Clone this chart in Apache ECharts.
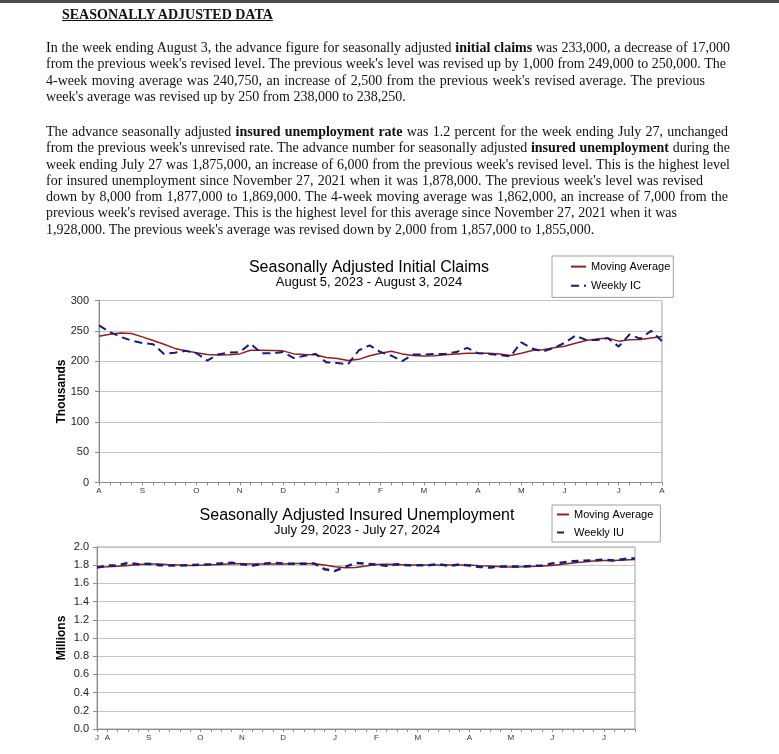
<!DOCTYPE html>
<html>
<head>
    <meta charset="utf-8">
    <title>Seasonally Adjusted Data</title>
    <style>
        body { margin: 0; background: #fff; }
        #topbar { position: absolute; left: 0; top: 0; width: 779px; height: 3px; background: #4a4a4a; }
        #container { position: absolute; left: 0; top: 0; width: 779px; height: 754px; }
        #text { position: absolute; left: 0; top: 0; width: 779px; color: #111;
                font-family: "Liberation Serif", "Times New Roman", serif; font-size: 14px; }
        #head { position: absolute; left: 62px; top: 6px; font-weight: bold; text-decoration: underline; line-height: 18px; }
        .para { position: absolute; left: 46px; }
        .ln { white-space: nowrap; height: 16.3px; line-height: 16.3px; text-align: justify; text-align-last: justify; }
        .ln.last { text-align-last: left; }
    </style>
</head>
<body>
<div id="container"></div>
<div id="topbar"></div>
<div id="text">
    <div id="head">SEASONALLY ADJUSTED DATA</div>
    <div class="para" style="top:40px">
        <div class="ln" style="width:684px">In the week ending August 3, the advance figure for seasonally adjusted <b>initial claims</b> was 233,000, a decrease of 17,000</div>
        <div class="ln" style="width:680px">from the previous week's revised level. The previous week's level was revised up by 1,000 from 249,000 to 250,000. The</div>
        <div class="ln" style="width:659px">4-week moving average was 240,750, an increase of 2,500 from the previous week's revised average. The previous</div>
        <div class="ln last">week's average was revised up by 250 from 238,000 to 238,250.</div>
    </div>
    <div class="para" style="top:124px">
        <div class="ln" style="width:682px">The advance seasonally adjusted <b>insured unemployment rate</b> was 1.2 percent for the week ending July 27, unchanged</div>
        <div class="ln" style="width:684px">from the previous week's unrevised rate. The advance number for seasonally adjusted <b>insured unemployment</b> during the</div>
        <div class="ln" style="width:684px">week ending July 27 was 1,875,000, an increase of 6,000 from the previous week's revised level. This is the highest level</div>
        <div class="ln" style="width:657px">for insured unemployment since November 27, 2021 when it was 1,878,000. The previous week's level was revised</div>
        <div class="ln" style="width:682px">down by 8,000 from 1,877,000 to 1,869,000. The 4-week moving average was 1,862,000, an increase of 7,000 from the</div>
        <div class="ln" style="width:631px">previous week's revised average. This is the highest level for this average since November 27, 2021 when it was</div>
        <div class="ln last">1,928,000. The previous week's average was revised down by 2,000 from 1,857,000 to 1,855,000.</div>
    </div>
</div>

<script src="https://cdn.jsdelivr.net/npm/echarts@6/dist/echarts.min.js"></script>
<script type="text/javascript">
    // week-ending dates for the two charts
    function weeks(y, m, d, n) {
        var out = [];
        for (var i = 0; i < n; i++) {
            var t = new Date(Date.UTC(y, m - 1, d + 7 * i));
            out.push(t.toISOString().slice(0, 10));
        }
        return out;
    }
    var icWeeks = weeks(2023, 8, 5, 53);   // Aug 5, 2023 - Aug 3, 2024
    var iuWeeks = weeks(2023, 7, 29, 53);  // Jul 29, 2023 - Jul 27, 2024

    // month tick labels (index of first week in month)
    var icMonthIdx = [0, 4, 9, 13, 17, 22, 26, 30, 35, 39, 43, 48, 52];
    var icMonthLab = ['A', 'S', 'O', 'N', 'D', 'J', 'F', 'M', 'A', 'M', 'J', 'J', 'A'];
    var iuMonthIdx = [0, 1, 5, 10, 14, 18, 23, 27, 31, 36, 40, 44, 49];
    var iuMonthLab = ['J', 'A', 'S', 'O', 'N', 'D', 'J', 'F', 'M', 'A', 'M', 'J', 'J'];

    // initial claims, thousands
    var icWeekly = [259, 248, 240, 234, 230, 228, 212, 214, 217, 213, 201, 211, 214, 215, 229, 213, 213, 215,
        205, 209, 212, 198, 197, 195, 218, 226, 215, 209, 200, 211, 211, 212, 212, 215, 222, 213, 212, 210,
        208, 231, 221, 216, 222, 230, 242, 235, 235, 238, 224, 244, 237, 250, 233];
    var icMovAvg = [241, 244.5, 246.5, 245.5, 240, 234, 228, 221, 217, 214, 211, 210, 210.5, 212, 218, 218, 217.5, 217,
        212, 211, 210.5, 206, 204.5, 201, 203, 209, 213, 216.5, 212, 209.5, 208.5, 209, 210.5, 212, 213, 213, 213, 212,
        209.5, 213, 217.5, 219, 222, 224.5, 229.5, 234, 236.5, 238, 233, 235.25, 235.75, 238.25, 240.75];

    // insured unemployment, millions
    var iuWeekly = [1.774, 1.796, 1.796, 1.826, 1.811, 1.815, 1.800, 1.796, 1.796, 1.800, 1.807, 1.811, 1.819, 1.826,
        1.811, 1.796, 1.815, 1.826, 1.819, 1.815, 1.815, 1.819, 1.756, 1.737, 1.781, 1.826, 1.815, 1.807, 1.793,
        1.811, 1.800, 1.800, 1.800, 1.811, 1.793, 1.807, 1.796, 1.781, 1.774, 1.785, 1.785, 1.785, 1.793, 1.796,
        1.819, 1.830, 1.844, 1.848, 1.852, 1.860, 1.852, 1.869, 1.875];
    var iuMovAvg = [1.778, 1.782, 1.788, 1.796, 1.807, 1.812, 1.813, 1.806, 1.802, 1.797, 1.800, 1.804, 1.809, 1.816,
        1.817, 1.813, 1.812, 1.812, 1.814, 1.819, 1.819, 1.817, 1.801, 1.782, 1.773, 1.775, 1.790, 1.807, 1.810,
        1.807, 1.803, 1.801, 1.803, 1.803, 1.801, 1.803, 1.802, 1.794, 1.790, 1.784, 1.781, 1.782, 1.787, 1.790,
        1.798, 1.810, 1.823, 1.835, 1.846, 1.851, 1.853, 1.857, 1.862];

    var font = '"Liberation Sans", Arial, sans-serif';
    var maColor = '#8b2222';
    var wkColor = '#1c1c72';

    function xAxisFor(gridIdx, cats, idx, lab, margin) {
        return {
            type: 'category', gridIndex: gridIdx, data: cats, boundaryGap: false,
            axisLine: {lineStyle: {color: '#8c8c8c'}},
            axisTick: {interval: 0, length: 3, lineStyle: {color: '#8c8c8c'}},
            axisLabel: {
                interval: function (i) { return idx.indexOf(i) >= 0; },
                formatter: function (v, i) { return lab[idx.indexOf(i)]; },
                fontSize: 8, color: '#333', fontFamily: font, margin: margin
            },
            splitLine: {show: false}
        };
    }

    var myChart = echarts.init(document.getElementById('container'));
    var option = {
        animation: false,
        title: [
            {text: 'Seasonally Adjusted Initial Claims', subtext: 'August 5, 2023 - August 3, 2024',
             left: 369, top: 259.5, textAlign: 'center', padding: 0, itemGap: 0,
             textStyle: {fontSize: 16, fontWeight: 'normal', color: '#000', fontFamily: font},
             subtextStyle: {fontSize: 13, color: '#000', fontFamily: font}},
            {text: 'Seasonally Adjusted Insured Unemployment', subtext: 'July 29, 2023 - July 27, 2024',
             left: 357, top: 508, textAlign: 'center', padding: 0, itemGap: 0,
             textStyle: {fontSize: 16, fontWeight: 'normal', color: '#000', fontFamily: font},
             subtextStyle: {fontSize: 13, color: '#000', fontFamily: font}}
        ],
        legend: [
            {data: ['Moving Average', 'Weekly IC'], orient: 'vertical', left: 552, top: 256,
             padding: [5, 3, 6, 18], itemWidth: 15, itemHeight: 14, itemGap: 8, itemTextGap: 0,
             borderColor: '#a0a0a0', borderWidth: 1, backgroundColor: '#fff',
             itemStyle: {opacity: 0},
             textStyle: {fontSize: 11, color: '#000', fontFamily: font}},
            {data: ['Moving Average ', 'Weekly IU'], orient: 'vertical', left: 552, top: 505,
             padding: [4, 4, 4, 4], itemWidth: 12, itemHeight: 12, itemGap: 7, itemTextGap: 0,
             borderColor: '#a0a0a0', borderWidth: 1, backgroundColor: '#fff',
             itemStyle: {opacity: 0},
             textStyle: {fontSize: 11, color: '#000', fontFamily: font}}
        ],
        grid: [
            {left: 99, top: 300.5, width: 563, height: 182, show: true, borderColor: '#a0a0a0', borderWidth: 1},
            {left: 97, top: 547, width: 538, height: 182, show: true, borderColor: '#a0a0a0', borderWidth: 1}
        ],
        xAxis: [
            xAxisFor(0, icWeeks, icMonthIdx, icMonthLab, 4),
            xAxisFor(1, iuWeeks, iuMonthIdx, iuMonthLab, 5)
        ],
        yAxis: [
            {type: 'value', gridIndex: 0, min: 0, max: 300, interval: 50,
             name: 'Thousands', nameLocation: 'middle', nameGap: 31, nameRotate: 90, nameMoveOverlap: false,
             nameTextStyle: {fontSize: 12, fontWeight: 'bold', color: '#000', fontFamily: font},
             axisLine: {show: true, lineStyle: {color: '#8c8c8c'}},
             axisTick: {show: true, length: 4, lineStyle: {color: '#8c8c8c'}},
             axisLabel: {fontSize: 11, color: '#222', fontFamily: font, margin: 10},
             splitLine: {lineStyle: {color: '#c4c4c4'}}},
            {type: 'value', gridIndex: 1, min: 0, max: 2, interval: 0.2,
             name: 'Millions', nameLocation: 'middle', nameGap: 29, nameRotate: 90, nameMoveOverlap: false,
             nameTextStyle: {fontSize: 12, fontWeight: 'bold', color: '#000', fontFamily: font},
             axisLine: {show: true, lineStyle: {color: '#8c8c8c'}},
             axisTick: {show: true, length: 4, lineStyle: {color: '#8c8c8c'}},
             axisLabel: {fontSize: 11, color: '#222', fontFamily: font, margin: 8,
                         formatter: function (v) { return v.toFixed(1); }},
             splitLine: {lineStyle: {color: '#c4c4c4'}}}
        ],
        series: [
            {name: 'Moving Average', type: 'line', xAxisIndex: 0, yAxisIndex: 0, data: icMovAvg,
             symbol: 'none', color: maColor, lineStyle: {color: maColor, width: 1.5}},
            {name: 'Weekly IC', type: 'line', xAxisIndex: 0, yAxisIndex: 0, data: icWeekly,
             symbol: 'none', color: wkColor, lineStyle: {color: wkColor, width: 2, type: [8, 5]}},
            {name: 'Moving Average ', type: 'line', xAxisIndex: 1, yAxisIndex: 1, data: iuMovAvg,
             symbol: 'none', color: maColor, lineStyle: {color: maColor, width: 1.5}},
            {name: 'Weekly IU', type: 'line', xAxisIndex: 1, yAxisIndex: 1, data: iuWeekly,
             symbol: 'none', color: wkColor, lineStyle: {color: wkColor, width: 2.5, type: [7, 5]}}
        ]
    };

    if (option && typeof option === "object") {
        myChart.setOption(option, true);
    }
</script>
</body>
</html>
